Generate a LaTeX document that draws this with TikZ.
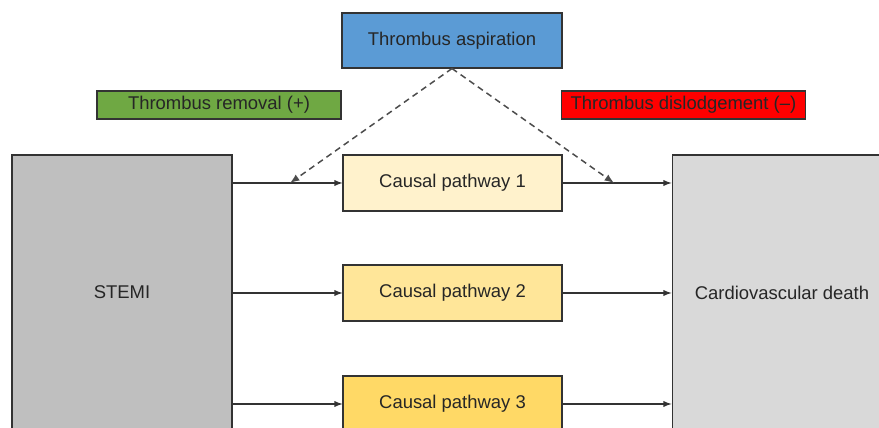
\documentclass[tikz,border=0pt]{standalone}
\usepackage{fontspec}
\setmainfont{Liberation Sans}
\definecolor{aspblue}{HTML}{5B9BD5}
\definecolor{remgreen}{HTML}{6FA843}
\definecolor{dislred}{HTML}{FF0000}
\definecolor{stemigray}{HTML}{BFBFBF}
\definecolor{deathgray}{HTML}{D9D9D9}
\definecolor{pathA}{HTML}{FFF2CC}
\definecolor{pathB}{HTML}{FFE699}
\definecolor{pathC}{HTML}{FFD966}
\begin{document}
\begin{tikzpicture}[>=latex, x=0.02cm, y=-0.02cm,
  box/.style={draw=black!80, line width=0.6pt, inner sep=0pt, text=black!85,
    font=\fontsize{10.5}{12}\selectfont},
  pathbox/.style={box, minimum width=4.38cm, minimum height=1.12cm},
  tagbox/.style={box, minimum width=4.88cm, minimum height=0.56cm},
  link/.style={->, line width=0.6pt, black!80},
  hint/.style={->, line width=0.85pt, black!70, dash pattern=on 3.5pt off 2.5pt}]

\useasboundingbox (0,0) rectangle (879,428);
\clip (0,0) rectangle (879,428);

\node[box, fill=aspblue, minimum width=4.4cm, minimum height=1.1cm] (asp) at (452,40.5) {Thrombus aspiration};
\node[tagbox, fill=remgreen] (rem) at (219,105) {Thrombus removal (+)};
\node[tagbox, fill=dislred] (disl) at (683.5,105) {Thrombus dislodgement (--)};

\node[box, fill=stemigray, minimum width=4.4cm, minimum height=5.5cm] (stemi) at (122,292.5) {STEMI};
\node[box, fill=deathgray, minimum width=4.4cm, minimum height=5.5cm] (death) at (782,292.5) {Cardiovascular death};

\node[pathbox, fill=pathA] (p1) at (452.5,183) {Causal pathway 1};
\node[pathbox, fill=pathB] (p2) at (452.5,293) {Causal pathway 2};
\node[pathbox, fill=pathC] (p3) at (452.5,404) {Causal pathway 3};

\foreach \p in {p1,p2,p3}{
  \draw[link] (stemi.east |- \p.west) -- (\p.west);
  \draw[link] (\p.east) -- (death.west |- \p.east);
}

\coordinate (hitA) at (290,183);
\coordinate (hitB) at (614,183);
\draw[hint] (asp.south) -- (hitA);
\draw[hint] (asp.south) -- (hitB);
\end{tikzpicture}
\end{document}
